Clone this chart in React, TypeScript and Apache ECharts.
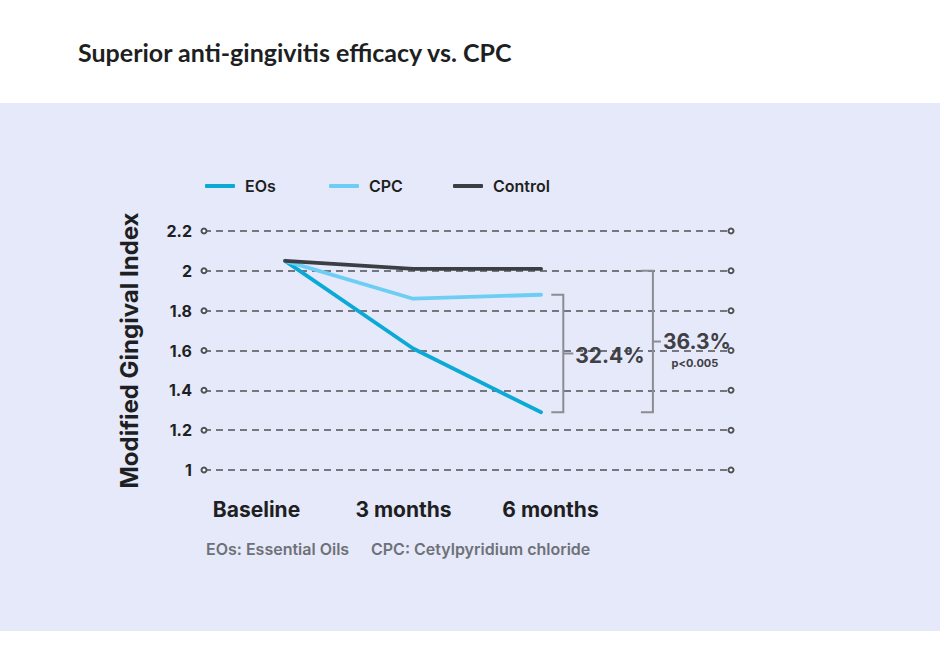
import React, { useEffect, useRef } from "react";
import * as echarts from "echarts";

const categories = ["Baseline", "3 months", "6 months"];
const months = [0, 3, 6];
const eosValues = [2.05, 1.61, 1.29];
const cpcValues = [2.05, 1.86, 1.88];
const controlValues = [2.05, 2.01, 2.01];
const yTicks = [1, 1.2, 1.4, 1.6, 1.8, 2, 2.2];
const seriesNames = ["EOs", "CPC", "Control"];
const seriesColors = ["#0AA9D6", "#6DCEF5", "#3B3E43"];
// bracket: [x position in months, top value, bottom value]
const bracketX = [6.52, 8.62];
const bracketTop = [1.88, 2.0];
const bracketBottom = [1.29, 1.29];
const bracketLabels = ["32.4%", "36.3%"];
const bracketNotes = ["", "p<0.005"];
const titleText = "Superior anti-gingivitis efficacy vs. CPC";
const yAxisName = "Modified Gingival Index";
const footnotes = ["EOs: Essential Oils", "CPC: Cetylpyridium chloride"];

const FONT = "Inter, 'Noto Sans', sans-serif";
const legendLefts = [205, 329, 453];

export default function App() {
  const ref = useRef<HTMLDivElement>(null);
  useEffect(() => {
    if (!ref.current) return;
    const chart = echarts.init(ref.current, null, { renderer: "svg" });
    const toPairs = (vals: number[]) => months.map((m, i) => [m, vals[i]]);
    const lineSeries = [eosValues, cpcValues, controlValues].map((vals, i) => ({
      name: seriesNames[i],
      type: "line",
      data: toPairs(vals),
      xAxisIndex: 0,
      yAxisIndex: 0,
      symbol: "none",
      z: 3 + i,
      lineStyle: { width: 3.8, color: seriesColors[i], cap: "round" },
      itemStyle: { color: seriesColors[i] },
    }));
    (lineSeries[2] as any).markLine = {
      silent: true,
      symbol: ["emptyCircle", "emptyCircle"],
      symbolSize: 5,
      label: { show: false },
      lineStyle: { type: [7, 5], color: "#4F5156", width: 1.5 },
      data: yTicks.map((v) => ({ yAxis: v })),
      z: 1,
    };
    const bracketData = bracketX.map((x, i) => [x, bracketTop[i], bracketBottom[i], i]);
    const option: any = {
      animation: false,
      graphic: [
        {
          type: "rect",
          shape: { x: 0, y: 103, width: 940, height: 528 },
          style: { fill: "#E6E9F9" },
          z: -10,
        },
        {
          type: "text",
          left: 78,
          top: 39,
          style: { text: titleText, font: `700 25px Lato, ${FONT}`, fill: "#1E1F22" },
        },
        ...footnotes.map((t, i) => ({
          type: "text",
          left: i === 0 ? 206 : 371,
          top: 541,
          style: { text: t, font: `600 16px ${FONT}`, fill: "#6E7178" },
        })),
      ],
      legend: seriesNames.map((n, i) => ({
        top: 178,
        left: legendLefts[i],
        padding: 0,
        icon: "roundRect",
        itemWidth: 30,
        itemHeight: 4,
        data: [n],
        textStyle: {
          fontFamily: FONT,
          fontSize: 16,
          fontWeight: 600,
          color: "#1E1F22",
          padding: [0, 0, 0, 5],
        },
      })),
      grid: [
        { left: 204, right: 210, top: 231, bottom: 194 },
        { left: 183, width: 441, top: 494, height: 1 },
      ],
      xAxis: [
        {
          type: "value",
          gridIndex: 0,
          min: -1.9,
          max: 10.45,
          show: false,
        },
        {
          type: "category",
          gridIndex: 1,
          data: categories,
          axisLine: { show: false },
          axisTick: { show: false },
          axisLabel: {
            margin: 4,
            fontFamily: FONT,
            fontSize: 21,
            fontWeight: 700,
            color: "#1E1F22",
          },
        },
      ],
      yAxis: [
        {
          type: "value",
          gridIndex: 0,
          min: 1,
          max: 2.2,
          interval: 0.2,
          name: yAxisName,
          nameLocation: "middle",
          nameGap: 63,
          nameTextStyle: { fontFamily: FONT, fontSize: 24, fontWeight: 700, color: "#1E1F22" },
          axisLine: { show: false },
          axisTick: { show: false },
          splitLine: { show: false },
          axisLabel: {
            margin: 12,
            fontFamily: FONT,
            fontSize: 16,
            fontWeight: 700,
            color: "#1E1F22",
            formatter: (v: number) => String(Math.round(v * 10) / 10),
          },
        },
        {
          type: "value",
          gridIndex: 1,
          show: false,
        },
      ],
      series: [
        ...lineSeries,
        {
          type: "custom",
          xAxisIndex: 0,
          yAxisIndex: 0,
          silent: true,
          z: 2,
          data: bracketData,
          renderItem: (params: any, api: any) => {
            const idx = api.value(3);
            const p1 = api.coord([api.value(0), api.value(1)]);
            const p2 = api.coord([api.value(0), api.value(2)]);
            const x = p1[0];
            const mid = (p1[1] + p2[1]) / 2;
            const arm = 12;
            const tick = idx === 0 ? 10 : 8;
            const children: any[] = [
              {
                type: "polyline",
                shape: { points: [[x - arm, p1[1]], [x, p1[1]], [x, p2[1]], [x - arm, p2[1]]] },
                style: { stroke: "#8B8D92", lineWidth: 2, fill: "none" },
              },
              {
                type: "line",
                shape: { x1: x, y1: mid, x2: x + tick, y2: mid },
                style: { stroke: "#8B8D92", lineWidth: 2 },
              },
              {
                type: "text",
                style: {
                  text: bracketLabels[idx],
                  x: x + tick + 2,
                  y: mid + (idx === 0 ? 2 : 0),
                  verticalAlign: "middle",
                  align: "left",
                  font: `700 21px ${FONT}`,
                  fill: "#3E4045",
                },
              },
            ];
            if (bracketNotes[idx]) {
              children.push({
                type: "text",
                style: {
                  text: bracketNotes[idx],
                  x: x + 42,
                  y: mid + 21,
                  verticalAlign: "middle",
                  align: "center",
                  font: `700 11px ${FONT}`,
                  fill: "#3E4045",
                },
              });
            }
            return { type: "group", children };
          },
        },
      ],
    };
    chart.setOption(option);
    return () => chart.dispose();
  }, []);
  return (
    <div
      ref={ref}
      style={{ position: "fixed", left: 0, top: 0, width: 941, height: 664, background: "#ffffff" }}
    />
  );
}
